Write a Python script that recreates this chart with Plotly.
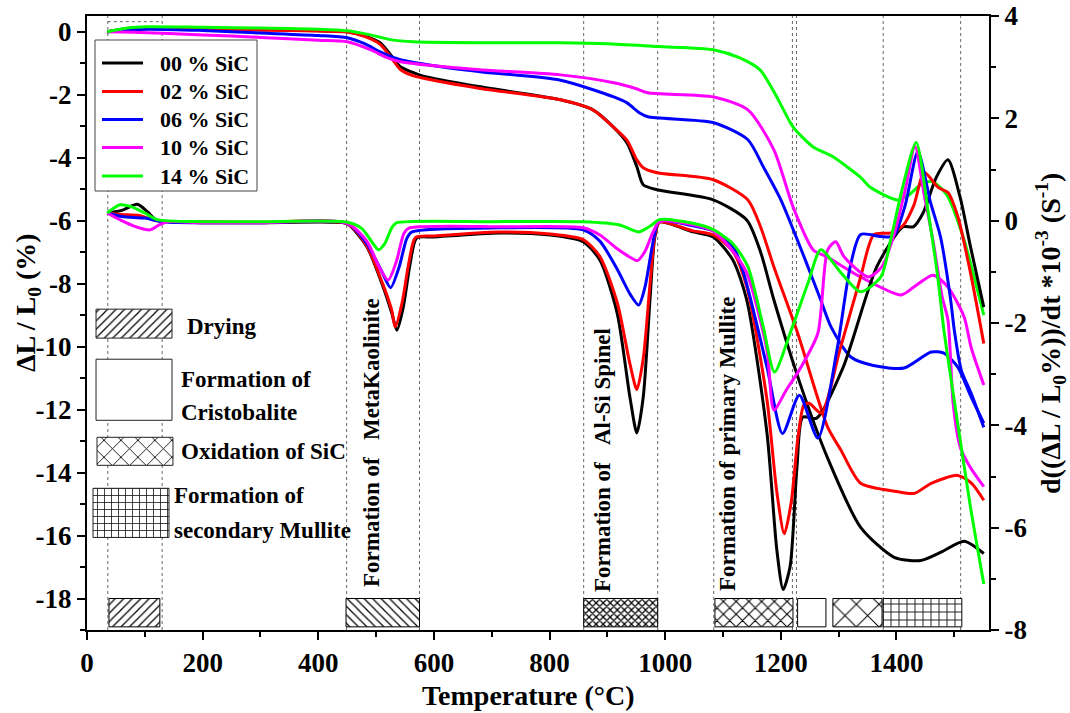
import plotly.graph_objects as go

FONT = "Liberation Serif"

# ---------------- data ----------------
series_names = ["00 % SiC", "02 % SiC", "06 % SiC", "10 % SiC", "14 % SiC"]
series_colors = ["#000000", "#ff0000", "#0000ff", "#ff00ff", "#00ff00"]

# dilatometric shrinkage  dL/L0 (%)  -- left axis
dil_T_00 = [35, 70, 110, 200, 300, 400, 450, 480, 507, 525, 542, 560, 580, 680, 819, 875, 910, 934, 951, 962, 986,
            1083, 1141, 1165, 1188, 1233, 1280, 1338, 1396, 1442, 1480, 1517, 1551]
dil_00 = [0, 0.1, 0.13, 0.1, 0.07, 0.03, 0.0, -0.13, -0.35, -0.73, -1.11, -1.27, -1.4, -1.75, -2.16, -2.48, -3.02,
          -3.53, -4.29, -4.86, -5.02, -5.34, -5.98, -7.0, -8.52, -11.16, -13.5, -15.74, -16.69, -16.79, -16.5, -16.18,
          -16.57]

dil_T_02 = [35, 70, 110, 200, 300, 400, 450, 480, 507, 525, 542, 560, 580, 680, 819, 875, 910, 934, 951, 962, 986,
            1083, 1143, 1165, 1188, 1229, 1281, 1304, 1338, 1400, 1431, 1460, 1506, 1530, 1551]
dil_02 = [0, 0.08, 0.1, 0.08, 0.05, 0.02, -0.01, -0.15, -0.4, -0.8, -1.2, -1.37, -1.47, -1.8, -2.16, -2.48, -3.02,
          -3.45, -4.07, -4.32, -4.48, -4.7, -5.34, -6.2, -7.47, -9.57, -12.56, -13.29, -14.34, -14.6, -14.66, -14.34,
          -14.09, -14.34, -14.88]

dil_T_06 = [35, 104, 200, 300, 400, 450, 480, 507, 525, 542, 600, 680, 819, 911, 934, 956, 970, 1084, 1143, 1170,
            1200, 1247, 1269, 1287, 1321, 1360, 1413, 1460, 1482, 1506, 1529, 1551]
dil_06 = [0, 0.08, 0.04, -0.04, -0.12, -0.19, -0.38, -0.64, -0.78, -0.89, -1.08, -1.27, -1.54, -2.07, -2.26, -2.58,
          -2.7, -2.89, -3.43, -4.3, -5.34, -7.47, -8.52, -9.38, -10.33, -10.6, -10.68, -10.17, -10.21, -10.65, -11.6,
          -12.43]

dil_T_10 = [35, 80, 200, 300, 400, 450, 490, 520, 542, 600, 680, 819, 911, 950, 970, 1084, 1143, 1188, 1221, 1256,
            1280, 1338, 1408, 1430, 1463, 1489, 1517, 1529, 1551]
dil_10 = [0, -0.02, -0.1, -0.18, -0.27, -0.32, -0.57, -0.83, -0.95, -1.08, -1.21, -1.37, -1.62, -1.81, -1.94, -2.07,
          -2.48, -3.75, -5.56, -6.93, -7.15, -7.79, -8.36, -8.11, -7.73, -8.11, -9.06, -10.02, -11.22]

dil_T_14 = [35, 70, 104, 200, 300, 400, 450, 490, 525, 565, 680, 819, 900, 987, 1083, 1129, 1164, 1193, 1221, 1256,
            1290, 1337, 1354, 1401, 1420, 1446, 1463, 1487, 1515, 1551]
dil_14 = [0, 0.12, 0.16, 0.14, 0.12, 0.08, 0.03, -0.1, -0.25, -0.32, -0.35, -0.35, -0.38, -0.47, -0.57, -0.83, -1.21,
          -2.07, -3.02, -3.66, -3.97, -4.61, -4.93, -5.34, -5.2, -4.8, -4.77, -5.18, -6.5, -9.0]

# derivative d(dL/L0)/dt *1e-3 (1/s)  -- right axis
der_T_00 = [35, 60, 87, 105, 121, 200, 300, 420, 450, 484, 512, 527, 536, 547, 559, 570, 599, 714, 801, 858, 887,
            917, 939, 951, 962, 974, 982, 990, 1048, 1083, 1117, 1141, 1176, 1193, 1204, 1216, 1228, 1238, 1262,
            1308, 1366, 1411, 1429, 1446, 1469, 1489, 1510, 1528, 1551]
der_00 = [0.15, 0.2, 0.32, 0.17, 0.01, -0.04, -0.04, -0.03, -0.06, -0.51, -1.29, -1.8, -2.14, -1.69, -0.83, -0.34,
          -0.32, -0.24, -0.28, -0.41, -0.77, -1.81, -3.45, -4.15, -3.45, -1.49, -0.32, -0.03, -0.22, -0.32, -0.77,
          -1.55, -4.15, -6.43, -7.21, -6.76, -4.8, -3.84, -3.86, -2.86, -0.9, -0.12, -0.12, 0.15, 0.85, 1.19, 0.46,
          -0.51, -1.69]

der_T_02 = [35, 60, 90, 121, 200, 300, 450, 484, 512, 527, 533, 545, 557, 568, 599, 714, 801, 858, 887, 917, 939,
            951, 962, 974, 982, 990, 1048, 1083, 1117, 1141, 1176, 1193, 1206, 1218, 1230, 1240, 1249, 1270, 1302,
            1338, 1361, 1390, 1411, 1430, 1448, 1472, 1489, 1506, 1528, 1551]
der_02 = [0.15, 0.12, 0.1, 0.0, -0.02, -0.03, -0.06, -0.5, -1.25, -1.75, -2.08, -1.6, -0.8, -0.33, -0.3, -0.22, -0.26,
          -0.37, -0.7, -1.6, -2.8, -3.3, -2.7, -1.2, -0.3, -0.03, -0.2, -0.28, -0.6, -1.29, -3.5, -5.3, -6.12, -5.5,
          -4.2, -3.6, -3.57, -3.76, -2.53, -1.1, -0.27, -0.24, -0.1, 0.3, 0.94, 0.65, 0.55, 0.08, -1.02, -2.4]

der_T_06 = [35, 60, 100, 130, 200, 300, 450, 484, 510, 525, 540, 553, 562, 714, 858, 887, 917, 940, 954, 965, 976,
            985, 990, 1048, 1083, 1117, 1135, 1176, 1203, 1232, 1264, 1297, 1320, 1338, 1373, 1395, 1415, 1437, 1459,
            1476, 1493, 1500, 1512, 1529, 1551]
der_06 = [0.15, 0.08, 0.05, -0.02, -0.04, -0.04, -0.05, -0.45, -1.0, -1.31, -0.9, -0.35, -0.22, -0.14, -0.18, -0.4,
          -0.95, -1.45, -1.65, -1.3, -0.6, -0.1, 0.0, -0.1, -0.2, -0.5, -1.0, -2.86, -4.16, -3.41, -4.25, -2.53, -0.9,
          -0.27, -0.31, -0.3, 0.3, 1.35, 0.35, -0.31, -1.49, -2.14, -2.92, -3.37, -4.04]

der_T_10 = [35, 60, 85, 109, 125, 140, 200, 300, 450, 484, 505, 521, 535, 548, 556, 714, 858, 887, 917, 940, 952, 965,
            978, 990, 1048, 1083, 1117, 1141, 1176, 1188, 1210, 1235, 1264, 1281, 1295, 1309, 1351, 1375, 1395, 1415,
            1432, 1448, 1463, 1479, 1489, 1498, 1510, 1527, 1551]
der_10 = [0.15, 0.0, -0.12, -0.18, -0.08, -0.02, -0.04, -0.04, -0.05, -0.4, -0.9, -1.16, -0.8, -0.25, -0.15, -0.12,
          -0.14, -0.28, -0.55, -0.72, -0.78, -0.6, -0.25, -0.02, -0.08, -0.2, -0.6, -1.02, -2.53, -3.7, -3.3, -2.86,
          -2.2, -0.57, -0.41, -0.7, -1.1, -0.9, -0.3, 0.6, 1.45, 0.5, -0.38, -1.49, -1.94, -3.57, -4.42, -4.81, -5.2]

der_T_14 = [35, 57, 75, 100, 121, 200, 300, 450, 475, 495, 504, 515, 528, 536, 700, 858, 920, 954, 975, 990, 1048,
            1084, 1117, 1143, 1170, 1189, 1216, 1247, 1269, 1304, 1338, 1373, 1390, 1411, 1434, 1455, 1472, 1482,
            1505, 1528, 1551]
der_14 = [0.15, 0.31, 0.28, 0.15, 0.02, -0.02, -0.02, -0.03, -0.15, -0.45, -0.57, -0.45, -0.12, -0.04, -0.02, -0.02,
          -0.08, -0.22, -0.1, 0.02, -0.05, -0.18, -0.45, -0.9, -2.1, -2.96, -2.2, -1.22, -0.57, -1.02, -1.39, -1.1,
          -0.37, 0.67, 1.53, 0.16, -1.16, -2.14, -3.9, -5.6, -7.1]

dil_T = [dil_T_00, dil_T_02, dil_T_06, dil_T_10, dil_T_14]
dil_V = [dil_00, dil_02, dil_06, dil_10, dil_14]
der_T = [der_T_00, der_T_02, der_T_06, der_T_10, der_T_14]
der_V = [der_00, der_02, der_06, der_10, der_14]

# phase temperature ranges (bottom boxes)
phase_start = [38, 448, 859, 1086, 1229, 1290, 1377]
phase_end = [126, 575, 987, 1221, 1278, 1375, 1513]
phase_pattern = ["/", "\\", "x", "x", "", "x", "+"]
phase_pattern_size = [6, 6, 5, 9, 8, 16, 8]
phase_pattern_solidity = [0.2, 0.2, 0.45, 0.22, 0.2, 0.12, 0.2]

# dotted boundaries of the temperature zones
zone_lines = [36, 130, 449, 575, 859, 987, 1084, 1220, 1227, 1377, 1511]

x_ticks = [0, 200, 400, 600, 800, 1000, 1200, 1400]
y_left_ticks = [0, -2, -4, -6, -8, -10, -12, -14, -16, -18]
y_right_ticks = [4, 2, 0, -2, -4, -6, -8]

# ---------------- figure ----------------
W, H = 1070, 713
ML, MR, MT, MB = 87, 81, 16, 83
PW, PH = W - ML - MR, H - MT - MB


def px(xp):
    return (xp - ML) / PW


def py(yp):
    return (H - MB - yp) / PH


fig = go.Figure()

# bottom phase boxes
box_base, box_top = -18.9, -18.0
fig.add_trace(go.Bar(
    x=[(a + b) / 2 for a, b in zip(phase_start, phase_end)],
    width=[b - a for a, b in zip(phase_start, phase_end)],
    y=[box_top - box_base] * len(phase_start), base=[box_base] * len(phase_start),
    marker=dict(color="white", line=dict(color="black", width=1),
                pattern=dict(shape=phase_pattern, size=phase_pattern_size, solidity=phase_pattern_solidity,
                             fgcolor="black", bgcolor="white", fillmode="replace")),
    showlegend=False, hoverinfo="skip", xaxis="x", yaxis="y"))

# key boxes (left side)
key_x0 = [15.6, 15.6, 17.3, 10.4]
key_x1 = [147, 147, 148.7, 141.8]
key_y0 = [-9.73, -12.34, -13.77, -16.06]
key_y1 = [-8.81, -10.4, -12.88, -14.5]
key_pattern = ["/", "", "x", "+"]
key_size = [6, 8, 12, 7]
key_solidity = [0.2, 0.2, 0.14, 0.2]
fig.add_trace(go.Bar(
    x=[(a + b) / 2 for a, b in zip(key_x0, key_x1)],
    width=[b - a for a, b in zip(key_x0, key_x1)],
    y=[b - a for a, b in zip(key_y0, key_y1)], base=key_y0,
    marker=dict(color="white", line=dict(color="#222", width=1),
                pattern=dict(shape=key_pattern, size=key_size, solidity=key_solidity,
                             fgcolor="black", bgcolor="white", fillmode="replace")),
    showlegend=False, hoverinfo="skip", xaxis="x", yaxis="y"))

for name, col, tx, v in zip(series_names, series_colors, dil_T, dil_V):
    fig.add_trace(go.Scatter(x=tx, y=v, mode="lines", name=name, showlegend=False,
                             line=dict(color=col, width=3, shape="spline", smoothing=0.7),
                             xaxis="x", yaxis="y"))
for name, col, tx, v in zip(series_names, series_colors, der_T, der_V):
    fig.add_trace(go.Scatter(x=tx, y=v, mode="lines", name=name, showlegend=False,
                             line=dict(color=col, width=3, shape="spline", smoothing=0.7),
                             xaxis="x", yaxis="y2"))

shapes = []
for t in zone_lines:
    shapes.append(dict(type="line", xref="x", yref="paper", x0=t, x1=t, y0=0, y1=1,
                       line=dict(color="#666", width=1, dash="dot"), layer="below"))
shapes.append(dict(type="line", xref="x", yref="y", x0=zone_lines[0], x1=zone_lines[1], y0=0.32, y1=0.32,
                   line=dict(color="#666", width=1, dash="dot"), layer="below"))

# series key (legend) drawn as a framed box
leg_left, leg_top, leg_right, leg_bottom = 95, 40, 257, 191
shapes.append(dict(type="rect", xref="paper", yref="paper", x0=px(leg_left), x1=px(leg_right),
                   y0=py(leg_bottom), y1=py(leg_top), line=dict(color="#444", width=1),
                   fillcolor="white", layer="above"))
leg_rows = [63, 91.5, 119.5, 147.5, 176]
annotations = []
for name, col, ry in zip(series_names, series_colors, leg_rows):
    shapes.append(dict(type="line", xref="paper", yref="paper", x0=px(102), x1=px(143), y0=py(ry), y1=py(ry),
                       line=dict(color=col, width=3), layer="above"))
    annotations.append(dict(text=name, xref="paper", yref="paper", x=px(158), y=py(ry), showarrow=False,
                            xanchor="left", yanchor="middle",
                            font=dict(family=FONT, size=22, color="black", weight="bold")))

tf = dict(family=FONT, size=27, color="black", weight="bold")
lab = dict(family=FONT, size=23, color="black", weight="bold")


def key_label(text, xp, yp):
    return dict(text=text, x=px(xp), y=py(yp), xref="paper", yref="paper", showarrow=False,
                xanchor="left", yanchor="middle", font=lab)


annotations += [
    dict(text="Temperature (°C)", xref="paper", yref="paper", x=px(528), y=py(695), showarrow=False,
         font=dict(family=FONT, size=28, color="black", weight="bold"), xanchor="center", yanchor="middle"),
    dict(text="ΔL / L<sub>0</sub> (%)", xref="paper", yref="paper", x=px(27), y=py(303), showarrow=False,
         textangle=-90, font=dict(family=FONT, size=28, color="black", weight="bold"),
         xanchor="center", yanchor="middle"),
    dict(text="d((ΔL / L<sub>0</sub>%))/dt *10<sup>-3</sup> (S<sup>-1</sup>)", xref="paper", yref="paper",
         x=px(1050), y=py(334), showarrow=False, textangle=-90,
         font=dict(family=FONT, size=28, color="black", weight="bold"), xanchor="center", yanchor="middle"),
    key_label("Drying", 185, 326),
    key_label("Formation of", 179, 379),
    key_label("Cristobalite", 179, 412),
    key_label("Oxidation of SiC", 179, 451),
    key_label("Formation of", 172, 495),
    key_label("secondary Mullite", 172, 530),
    # rotated zone labels
    dict(text="Formation of\u00a0\u00a0\u00a0MetaKaolinite", x=px(371), y=py(443), xref="paper", yref="paper",
         showarrow=False, textangle=-90, font=lab, xanchor="center", yanchor="middle"),
    dict(text="Formation of\u00a0\u00a0\u00a0Al-Si Spinel", x=px(602), y=py(460), xref="paper", yref="paper",
         showarrow=False, textangle=-90, font=lab, xanchor="center", yanchor="middle"),
    dict(text="Formation of primary Mullite", x=px(727), y=py(444), xref="paper", yref="paper",
         showarrow=False, textangle=-90, font=lab, xanchor="center", yanchor="middle"),
]

axis_common = dict(showgrid=False, zeroline=False, showline=True, linecolor="black", linewidth=2,
                   ticks="outside", tickwidth=2, ticklen=8, tickcolor="black", tickfont=tf, automargin=False)

fig.update_layout(
    width=W, height=H,
    margin=dict(l=ML, r=MR, t=MT, b=MB, autoexpand=False),
    paper_bgcolor="white", plot_bgcolor="white",
    barmode="overlay",
    showlegend=False,
    shapes=shapes,
    annotations=annotations,
    xaxis=dict(range=[0, 1560], tickvals=x_ticks, ticktext=[str(v) for v in x_ticks], mirror=True,
               minor=dict(dtick=100, tick0=0, ticks="outside", ticklen=5, tickwidth=2, tickcolor="black"),
               **axis_common),
    yaxis=dict(range=[-19, 0.5], tickvals=y_left_ticks, ticktext=[str(v) for v in y_left_ticks],
               minor=dict(dtick=1, tick0=0, ticks="outside", ticklen=5, tickwidth=2, tickcolor="black"),
               **axis_common),
    yaxis2=dict(range=[-8, 4], tickvals=y_right_ticks, ticktext=[str(v) for v in y_right_ticks],
                overlaying="y", side="right",
                minor=dict(dtick=1, tick0=0, ticks="outside", ticklen=5, tickwidth=2, tickcolor="black"),
                **axis_common),
)

fig.write_html("out.html")
